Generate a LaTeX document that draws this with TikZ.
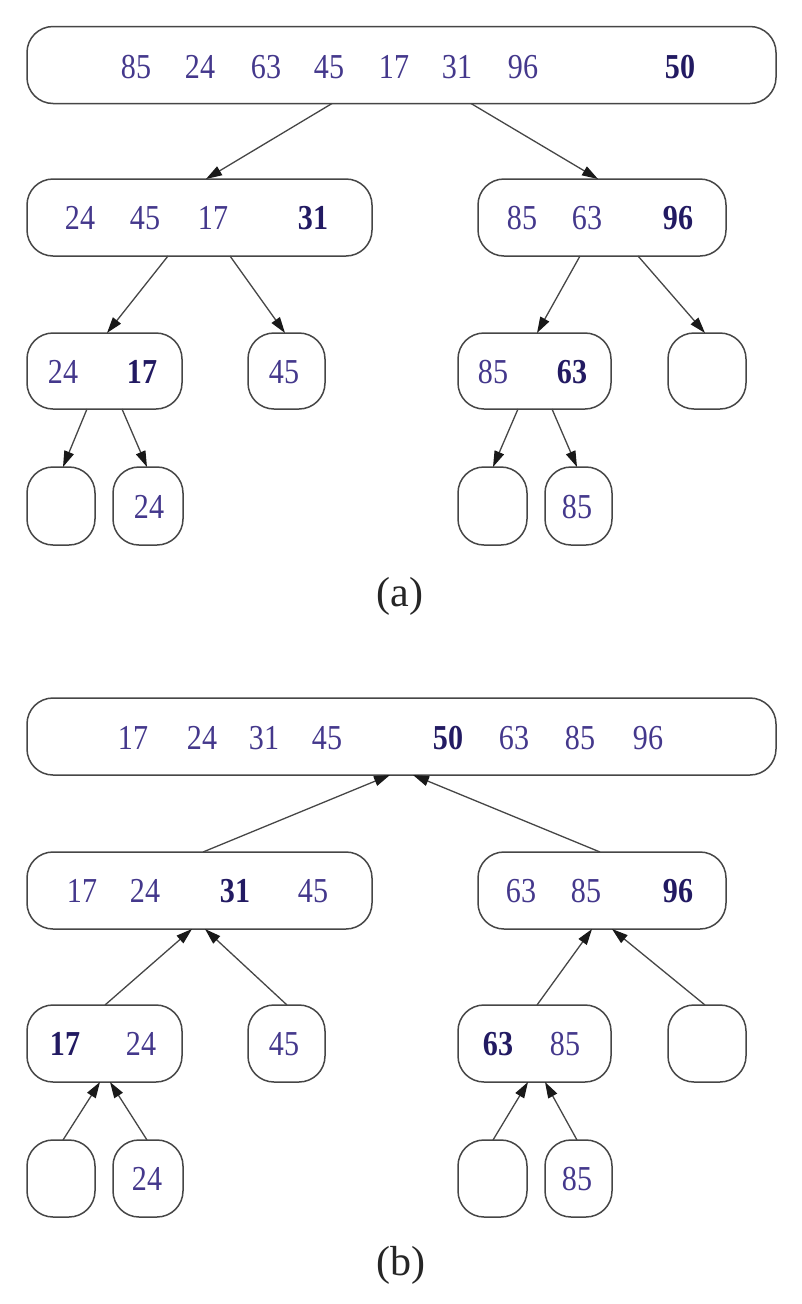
\documentclass[tikz,border=0pt]{standalone}
\usepackage{fontspec}
\setmainfont{Liberation Serif}
\newfontfamily\numf[FakeStretch=0.86]{Liberation Serif}
\usetikzlibrary{arrows.meta}
\definecolor{numc}{RGB}{68,56,140}
\definecolor{boldc}{RGB}{34,26,98}
\definecolor{linec}{RGB}{70,70,70}
\tikzset{
  box/.style={draw=linec, line width=1.5pt, rounded corners=26pt, inner sep=0pt, outer sep=0pt, minimum height=77pt},
  num/.style={text=numc, inner sep=0pt, font=\numf\fontsize{35}{35}\selectfont},
  bnum/.style={text=boldc, inner sep=0pt, font=\numf\bfseries\fontsize{35}{35}\selectfont},
  lbl/.style={text=black!85, inner sep=0pt, font=\fontsize{42}{42}\selectfont},
  arr/.style={draw=linec, line width=1.3pt, -{Triangle[length=16pt,width=10pt,fill=black!90,color=black!90]}},
}
\begin{document}
\begin{tikzpicture}[x=1pt,y=-1pt]
\useasboundingbox[fill=white] (0,0) rectangle (802,1304);

% ---------------- (a) ----------------
\node[box, minimum width=749pt] (A0) at (401.5,65) {};
\node[box, minimum width=345pt] (A1L) at (199.5,217.5) {};
\node[box, minimum width=248pt] (A1R) at (602,217.5) {};
\node[box, minimum width=155pt, minimum height=76pt] (A2a) at (104.5,371) {};
\node[box, minimum width=77pt, minimum height=76pt] (A2b) at (286.5,371) {};
\node[box, minimum width=153pt, minimum height=76pt] (A2c) at (534.5,371) {};
\node[box, minimum width=78pt, minimum height=76pt] (A2d) at (707,371) {};
\node[box, minimum width=68pt, minimum height=78pt] (A3a) at (61,506) {};
\node[box, minimum width=70pt, minimum height=78pt] (A3b) at (148,506) {};
\node[box, minimum width=69pt, minimum height=78pt] (A3c) at (492.5,506) {};
\node[box, minimum width=67pt, minimum height=78pt] (A3d) at (578.5,506) {};

\node[num] (a01) at (136,67) {85};
\node[num] (a02) at (200,67) {24};
\node[num] (a03) at (266,67) {63};
\node[num] (a04) at (329,67) {45};
\node[num] (a05) at (394,67) {17};
\node[num] (a06) at (457,67) {31};
\node[num] (a07) at (523,67) {96};
\node[bnum] (a08) at (680,67) {50};

\node[num] (a11) at (80,218) {24};
\node[num] (a12) at (145,218) {45};
\node[num] (a13) at (213,218) {17};
\node[bnum] (a14) at (313,218) {31};
\node[num] (a15) at (522,218) {85};
\node[num] (a16) at (587,218) {63};
\node[bnum] (a17) at (678,218) {96};

\node[num] (a21) at (63,372) {24};
\node[bnum] (a22) at (142,372) {17};
\node[num] (a23) at (284,372) {45};
\node[num] (a24) at (493,372) {85};
\node[bnum] (a25) at (572,372) {63};

\node[num] (a31) at (149,507) {24};
\node[num] (a32) at (577,507) {85};

\draw[arr] ([xshift=305pt]A0.south west) -- ([xshift=179pt]A1L.north west);
\draw[arr] ([xshift=444pt]A0.south west) -- ([xshift=120pt]A1R.north west);
\draw[arr] ([xshift=141pt]A1L.south west) -- ([xshift=80pt]A2a.north west);
\draw[arr] ([xshift=203pt]A1L.south west) -- ([xshift=37pt]A2b.north west);
\draw[arr] ([xshift=102pt]A1R.south west) -- ([xshift=79pt]A2c.north west);
\draw[arr] ([xshift=160pt]A1R.south west) -- ([xshift=37pt]A2d.north west);
\draw[arr] ([xshift=60pt]A2a.south west) -- ([xshift=36pt]A3a.north west);
\draw[arr] ([xshift=95pt]A2a.south west) -- ([xshift=34pt]A3b.north west);
\draw[arr] ([xshift=60pt]A2c.south west) -- ([xshift=35pt]A3c.north west);
\draw[arr] ([xshift=94pt]A2c.south west) -- ([xshift=32pt]A3d.north west);

\node[lbl] (la) at (400,596) {(a)};

% ---------------- (b) ----------------
\node[box, minimum width=749pt] (B0) at (401.5,736.5) {};
\node[box, minimum width=345pt] (B1L) at (199.5,890.5) {};
\node[box, minimum width=248pt] (B1R) at (602,890.5) {};
\node[box, minimum width=155pt] (B2a) at (104.5,1043.5) {};
\node[box, minimum width=77pt] (B2b) at (286.5,1043.5) {};
\node[box, minimum width=153pt] (B2c) at (534.5,1043.5) {};
\node[box, minimum width=78pt] (B2d) at (707,1043.5) {};
\node[box, minimum width=68pt] (B3a) at (61,1178.5) {};
\node[box, minimum width=70pt] (B3b) at (148,1178.5) {};
\node[box, minimum width=69pt] (B3c) at (492.5,1178.5) {};
\node[box, minimum width=67pt] (B3d) at (578.5,1178.5) {};

\node[num] (b01) at (133,738) {17};
\node[num] (b02) at (202,738) {24};
\node[num] (b03) at (264,738) {31};
\node[num] (b04) at (327,738) {45};
\node[bnum] (b05) at (448,738) {50};
\node[num] (b06) at (514,738) {63};
\node[num] (b07) at (580,738) {85};
\node[num] (b08) at (648,738) {96};

\node[num] (b11) at (82,891) {17};
\node[num] (b12) at (145,891) {24};
\node[bnum] (b13) at (235,891) {31};
\node[num] (b14) at (313,891) {45};
\node[num] (b15) at (521,891) {63};
\node[num] (b16) at (586,891) {85};
\node[bnum] (b17) at (678,891) {96};

\node[bnum] (b21) at (65,1044) {17};
\node[num] (b22) at (141,1044) {24};
\node[num] (b23) at (284,1044) {45};
\node[bnum] (b24) at (498,1044) {63};
\node[num] (b25) at (565,1044) {85};

\node[num] (b31) at (147,1179) {24};
\node[num] (b32) at (577,1179) {85};

\draw[arr] ([xshift=176pt]B1L.north west) -- ([xshift=363pt]B0.south west);
\draw[arr] ([xshift=122pt]B1R.north west) -- ([xshift=386pt]B0.south west);
\draw[arr] ([xshift=78pt]B2a.north west) -- ([xshift=165pt]B1L.south west);
\draw[arr] ([xshift=39pt]B2b.north west) -- ([xshift=178pt]B1L.south west);
\draw[arr] ([xshift=79pt]B2c.north west) -- ([xshift=114pt]B1R.south west);
\draw[arr] ([xshift=37pt]B2d.north west) -- ([xshift=134pt]B1R.south west);
\draw[arr] ([xshift=36pt]B3a.north west) -- ([xshift=73pt]B2a.south west);
\draw[arr] ([xshift=34pt]B3b.north west) -- ([xshift=83pt]B2a.south west);
\draw[arr] ([xshift=35pt]B3c.north west) -- ([xshift=70pt]B2c.south west);
\draw[arr] ([xshift=32pt]B3d.north west) -- ([xshift=87pt]B2c.south west);

\node[lbl] (lb) at (401,1265) {(b)};
\end{tikzpicture}
\end{document}
